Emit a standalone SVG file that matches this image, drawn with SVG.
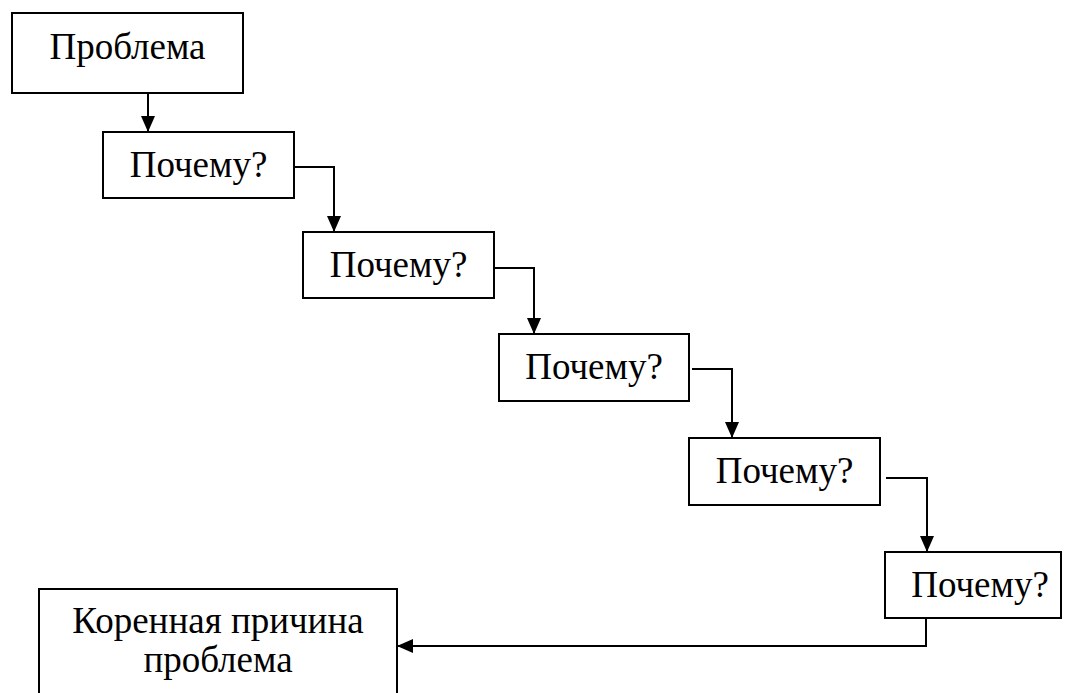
<svg xmlns="http://www.w3.org/2000/svg" width="1065" height="693" viewBox="0 0 1065 693">
<defs>
<marker id="arr" markerWidth="16" markerHeight="14" refX="16" refY="7" orient="auto" markerUnits="userSpaceOnUse">
<path d="M0,0 L16,7 L0,14 z" fill="#000"/>
</marker>
<style>
.box{fill:#fff;stroke:#000;stroke-width:2}
.t{font-family:"Liberation Serif","Times New Roman",serif;font-size:37px;fill:#000;text-anchor:middle}
.c{fill:none;stroke:#000;stroke-width:2;marker-end:url(#arr)}
</style>
</defs>
<rect width="1065" height="693" fill="#fff"/>
<g id="n1"><rect class="box" x="12" y="13" width="231" height="80"/><text class="t" x="127.5" y="59">Проблема</text></g>
<g id="n2"><rect class="box" x="103" y="132" width="191" height="66"/><text class="t" x="198.5" y="177">Почему?</text></g>
<g id="n3"><rect class="box" x="303" y="232" width="191" height="66"/><text class="t" x="398.5" y="277">Почему?</text></g>
<g id="n4"><rect class="box" x="499" y="334" width="190" height="67"/><text class="t" x="594" y="379">Почему?</text></g>
<g id="n5"><rect class="box" x="689" y="438" width="191" height="67"/><text class="t" x="784.5" y="483">Почему?</text></g>
<g id="n6"><rect class="box" x="885" y="552" width="176" height="66"/><text class="t" x="980" y="597">Почему?</text></g>
<g id="n7"><rect class="box" x="39" y="589" width="358" height="120"/><text class="t" x="218" y="633">Коренная причина</text><text class="t" x="218" y="672">проблема</text></g>
<g id="connectors">
<path class="c" d="M148,93 V132"/>
<path class="c" d="M294,167 H334 V232"/>
<path class="c" d="M494,268 H534 V334"/>
<path class="c" d="M692,369 H732 V438"/>
<path class="c" d="M886,478 H927 V552"/>
<path class="c" d="M926,618 V646 H397"/>
</g>
</svg>
